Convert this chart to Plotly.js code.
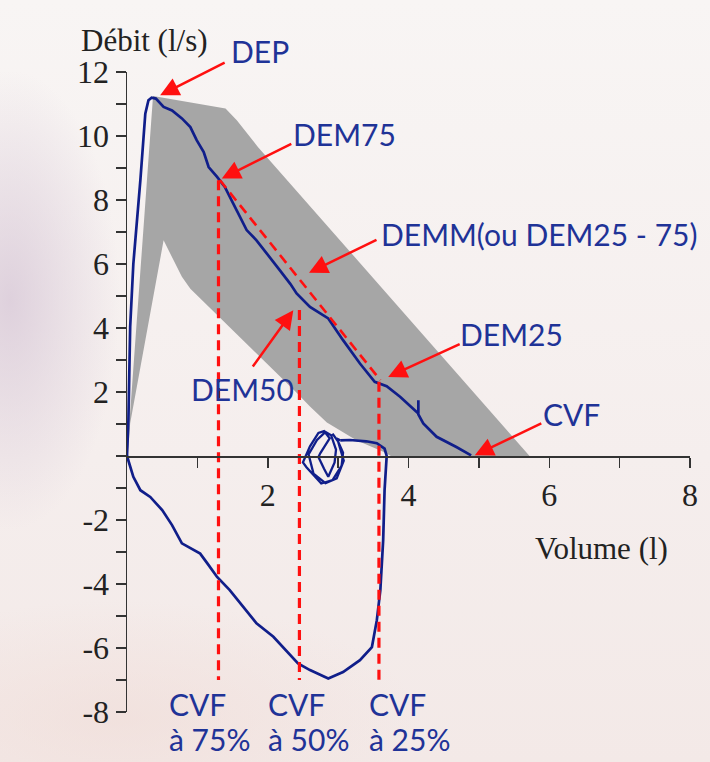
<!DOCTYPE html>
<html>
<head>
<meta charset="utf-8">
<script src="https://cdn.plot.ly/plotly-3.0.1.min.js"></script>
<style>
  html, body { margin: 0; padding: 0; }
  body {
    width: 710px; height: 762px; overflow: hidden;
    background:
      radial-gradient(ellipse 110px 230px at 10px 300px, rgba(214,198,214,0.75), rgba(214,198,214,0) 100%),
      radial-gradient(ellipse 300px 120px at 120px 720px, rgba(240,220,215,0.6), rgba(240,220,215,0) 100%),
      linear-gradient(180deg, #f8f5f4 0%, #f5eeed 60%, #f3e9e7 100%);
  }
  #chart { width: 710px; height: 762px; }
</style>
</head>
<body>
<div id="chart"></div>
<script>
// ---------- data ----------
// Expiratory branch of the flow-volume loop
const expVolume = [0, 0.02, 0.045, 0.09, 0.19, 0.26, 0.305, 0.35, 0.41, 0.52, 0.64, 0.78, 0.90, 0.99, 1.09, 1.16, 1.28, 1.39, 1.51, 1.58, 1.70, 1.84, 1.99, 2.17, 2.32, 2.41, 2.60, 2.79, 2.86, 3.07, 3.31, 3.52, 3.69, 3.88, 4.14, 4.14, 4.14, 4.21, 4.40, 4.68, 4.89];
const expFlow   = [0, 1.12, 4.03, 6.00, 8.62, 10.70, 11.12, 11.20, 11.17, 10.91, 10.80, 10.55, 10.28, 9.87, 9.50, 9.03, 8.72, 8.41, 7.89, 7.58, 7.06, 6.74, 6.33, 5.81, 5.38, 5.08, 4.66, 4.40, 4.30, 3.62, 2.89, 2.32, 2.18, 1.85, 1.33, 1.74, 1.30, 1.02, 0.60, 0.28, 0.02];

// Inspiratory branch
const inspVolume = [0, 0.09, 0.19, 0.33, 0.50, 0.64, 0.78, 0.90, 1.04, 1.16, 1.28, 1.46, 1.65, 1.84, 2.08, 2.22, 2.43, 2.60, 2.86, 3.07, 3.31, 3.48, 3.55, 3.60, 3.64, 3.66, 3.69, 3.66, 3.55, 3.40, 3.17, 3.03];
const inspFlow   = [0, -0.65, -1.07, -1.28, -1.69, -2.16, -2.73, -2.89, -3.05, -3.41, -3.78, -4.19, -4.72, -5.23, -5.65, -5.97, -6.48, -6.69, -6.95, -6.75, -6.38, -5.97, -5.13, -4.19, -2.63, -1.07, 0.00, 0.23, 0.40, 0.46, 0.50, 0.49];

// Small tidal scribble at the end of the recording
const loopVolume = [3.03, 2.98, 3.07, 3.05, 2.92, 2.76, 2.55, 2.50, 2.60, 2.72, 2.80, 2.88, 2.75, 2.72, 2.80, 2.86, 2.95, 2.97, 2.90, 2.82, 2.70, 2.58, 2.65, 2.82, 2.98, 3.08, 3.00, 2.92];
const loopFlow   = [0.49, 0.55, 0.10, -0.30, -0.75, -0.86, -0.35, -0.20, 0.30, 0.72, 0.78, 0.55, 0.10, -0.03, -0.40, -0.65, -0.20, 0.20, 0.65, 0.75, 0.50, 0.05, -0.55, -0.85, -0.70, -0.15, 0.45, 0.70];

// Normal (predicted) range – grey zone outline
const normalVolume = [0, 0.37, 1.40, 1.56, 1.86, 5.72, 3.75, 3.64, 3.26, 2.84, 2.60, 2.40, 0.90, 0.78, 0.52, 0.045, 0.02, 0];
const normalFlow   = [0, 11.25, 10.86, 10.49, 9.66, 0, 0, 0.13, 0.49, 1.05, 1.55, 2.00, 5.23, 5.60, 6.74, 1.02, 0.30, 0];

// Reference volumes (CVF à 75 %, 50 %, 25 %) and their flows
const refVolume  = [1.30, 2.45, 3.58];
const refTopFlow = [8.62, 4.56, 2.32];
const refBottomFlow = -7.0;
const demmVolume = [1.32, 3.60];
const demmFlow   = [8.62, 2.37];

// Tick labels
const xTickVals = [2, 4, 6, 8];
const xMinorVals = [1, 3, 5, 7];
const yTickVals = [-8, -6, -4, -2, 2, 4, 6, 8, 10, 12];
const yMinorVals = [-7, -5, -3, -1, 0, 1, 3, 5, 7, 9, 11];

// Labels: text centre (volume, flow); arrow tip (volume, flow) + tail offset in px
const labelTexts   = ['DEP', 'DEM75', 'DEMM(ou DEM25 - 75)', 'DEM50', 'DEM25', 'CVF'];
const labelVolume  = [1.89, 3.097, 5.864, 1.635, 5.467, 6.32];
const labelFlow    = [12.66, 10.07, 6.94, 2.10, 3.82, 1.32];
const tipVolume    = [0.471, 1.347, 2.586, 2.363, 3.711, 4.942];
const tipFlow      = [11.27, 8.67, 5.73, 4.556, 2.472, 0.025];
const tailDx       = [65, 70, 68, -41, 72, 67];
const tailDy       = [-33, -35, -33, 57, -33, -32];

const bottomTop    = ['CVF', 'CVF', 'CVF'];
const bottomBottom = ['à 75%', 'à 50%', 'à 25%'];
const bottomLeftVolume = [0.571, 1.976, 3.41];

// ---------- styles ----------
const xRange = [0, 8], yRange = [-8, 12];
const BLUE_LINE = '#101e8a';
const BLUE_TEXT = '#1f3397';
const RED = '#ff1010';
const GREY = '#a6a6a6';
const serif = '"Liberation Serif", "Times New Roman", serif';
const sans = 'Lato, "Open Sans", sans-serif';

const fx = v => (v - xRange[0]) / (xRange[1] - xRange[0]);
const fy = v => (v - yRange[0]) / (yRange[1] - yRange[0]);

// vertical dashed lines
const vx = [], vy = [];
refVolume.forEach((v, i) => { vx.push(v, v, null); vy.push(refTopFlow[i], refBottomFlow, null); });

const traces = [
  { x: normalVolume, y: normalFlow, type: 'scatter', mode: 'lines', fill: 'toself',
    fillcolor: GREY, line: { width: 0, color: GREY }, hoverinfo: 'skip' },
  { x: expVolume, y: expFlow, type: 'scatter', mode: 'lines', line: { color: BLUE_LINE, width: 2.7 } },
  { x: inspVolume, y: inspFlow, type: 'scatter', mode: 'lines', line: { color: BLUE_LINE, width: 2.7 } },
  { x: loopVolume, y: loopFlow, type: 'scatter', mode: 'lines', line: { color: BLUE_LINE, width: 2.3 } },
  { x: vx, y: vy, type: 'scatter', mode: 'lines', line: { color: RED, width: 3.2, dash: '10px,6px' } },
  { x: demmVolume, y: demmFlow, type: 'scatter', mode: 'lines', line: { color: RED, width: 2.6, dash: '10px,6px' } }
];

const annotations = [];
labelTexts.forEach((t, i) => {
  annotations.push({ xref: 'paper', yref: 'paper', x: fx(labelVolume[i]), y: fy(labelFlow[i]),
    text: t, showarrow: false, xanchor: 'center', yanchor: 'middle',
    font: { family: sans, size: 30, color: BLUE_TEXT } });
  annotations.push({ xref: 'x', yref: 'y', x: tipVolume[i], y: tipFlow[i],
    ax: tailDx[i], ay: tailDy[i], text: ' ', showarrow: true,
    arrowhead: 2, arrowsize: 1.5, arrowwidth: 2.5, arrowcolor: RED,
    font: { size: 1 }, borderpad: 0 });
});
bottomTop.forEach((t, i) => {
  annotations.push({ xref: 'paper', yref: 'paper', x: fx(bottomLeftVolume[i]), y: fy(-7.76),
    text: t, showarrow: false, xanchor: 'left', yanchor: 'middle',
    font: { family: sans, size: 30, color: BLUE_TEXT } });
  annotations.push({ xref: 'paper', yref: 'paper', x: fx(bottomLeftVolume[i]), y: fy(-8.85),
    text: bottomBottom[i], showarrow: false, xanchor: 'left', yanchor: 'middle',
    font: { family: sans, size: 30, color: BLUE_TEXT } });
});
// axis titles
annotations.push({ xref: 'paper', yref: 'paper', x: fx(0.244), y: fy(12.99), text: 'Débit (l/s)',
  showarrow: false, xanchor: 'center', yanchor: 'middle', font: { family: serif, size: 31, color: '#222' } });
annotations.push({ xref: 'paper', yref: 'paper', x: fx(6.745), y: fy(-2.9), text: 'Volume (l)',
  showarrow: false, xanchor: 'center', yanchor: 'middle', font: { family: serif, size: 31, color: '#222' } });

const axisCommon = {
  showline: true, linecolor: '#333', linewidth: 1.5,
  ticks: 'outside', ticklen: 10, tickwidth: 1.5, tickcolor: '#333',
  showgrid: false, zeroline: false, fixedrange: true,
  tickfont: { family: serif, size: 32, color: '#222' }
};

const layout = Object.assign({
  width: 710, height: 762,
  margin: { l: 126.8, r: 19.5, t: 71.8, b: 50.2, pad: 0 },
  paper_bgcolor: 'rgba(0,0,0,0)', plot_bgcolor: 'rgba(0,0,0,0)',
  showlegend: false,
  xaxis: Object.assign({}, axisCommon, {
    range: xRange, anchor: 'free', position: fy(0),
    tickmode: 'array', tickvals: xTickVals, ticktext: xTickVals.map(String),
    ticklabelstandoff: 0,
    minor: { tickmode: 'array', tickvals: xMinorVals, ticks: 'outside', ticklen: 10, tickwidth: 1.5, tickcolor: '#333', showgrid: false }
  }),
  yaxis: Object.assign({}, axisCommon, {
    range: yRange,
    tickmode: 'array', tickvals: yTickVals, ticktext: yTickVals.map(String),
    minor: { tickmode: 'array', tickvals: yMinorVals, ticks: 'outside', ticklen: 10, tickwidth: 1.5, tickcolor: '#333', showgrid: false }
  }),
  annotations: annotations
});

Plotly.newPlot('chart', traces, layout, { displayModeBar: false, staticPlot: true });
</script>
</body>
</html>
